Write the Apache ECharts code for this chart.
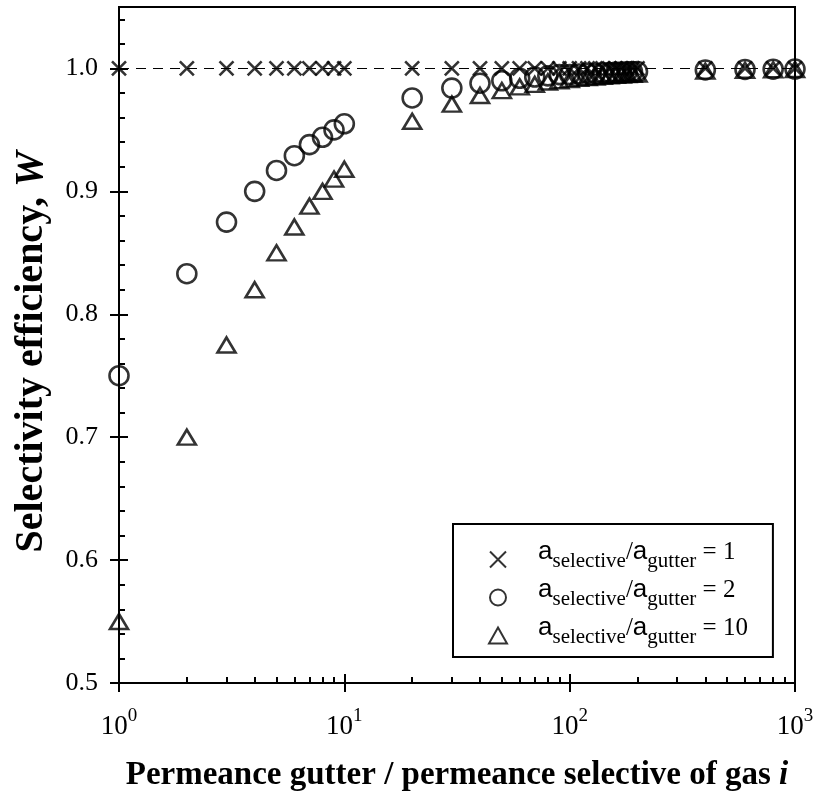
<!DOCTYPE html>
<html>
<head>
<meta charset="utf-8">
<script src="https://cdn.jsdelivr.net/npm/echarts@6/dist/echarts.min.js"></script>
<style>
  html, body { margin: 0; padding: 0; background: #fff; }
  #chart { width: 815px; height: 793px; }
</style>
</head>
<body>
<div id="chart"></div>
<script>
// Permeance ratio (gutter / selective) for each computed point
const permeanceRatio = [1, 2, 3, 4, 5, 6, 7, 8, 9, 10,
  20, 30, 40, 50, 60, 70, 80, 90, 100,
  110, 120, 130, 140, 150, 160, 170, 180, 190, 200,
  400, 600, 800, 1000];

// Selectivity efficiency W for area ratio a_selective/a_gutter = 1
const efficiencyArea1 = [1, 1, 1, 1, 1, 1, 1, 1, 1, 1,
  1, 1, 1, 1, 1, 1, 1, 1, 1,
  1, 1, 1, 1, 1, 1, 1, 1, 1, 1,
  1, 1, 1, 1];

// ... area ratio = 2
const efficiencyArea2 = [0.750, 0.833, 0.875, 0.900, 0.917, 0.929, 0.938, 0.944, 0.950, 0.955,
  0.976, 0.984, 0.988, 0.990, 0.992, 0.993, 0.994, 0.995, 0.995,
  0.9955, 0.996, 0.996, 0.9965, 0.9967, 0.997, 0.997, 0.9972, 0.9974, 0.9975,
  0.9988, 0.9992, 0.9994, 0.9995];

// ... area ratio = 10
const efficiencyArea10 = [0.550, 0.700, 0.775, 0.820, 0.850, 0.871, 0.888, 0.900, 0.910, 0.918,
  0.957, 0.971, 0.978, 0.982, 0.985, 0.987, 0.989, 0.990, 0.991,
  0.992, 0.9926, 0.993, 0.9936, 0.994, 0.9944, 0.9947, 0.995, 0.9953, 0.9955,
  0.9978, 0.9985, 0.9989, 0.9991];

const areaRatioLabels = ['1', '2', '10'];

// Axis ticks
const yMajorTicks = [0.5, 0.6, 0.7, 0.8, 0.9, 1.0];
const yMinorTicks = [0.52, 0.54, 0.56, 0.58, 0.62, 0.64, 0.66, 0.68, 0.72, 0.74, 0.76, 0.78,
  0.82, 0.84, 0.86, 0.88, 0.92, 0.94, 0.96, 0.98, 1.02, 1.04];
const xMinorTicks = [2, 3, 4, 5, 6, 7, 8, 9, 20, 30, 40, 50, 60, 70, 80, 90,
  200, 300, 400, 500, 600, 700, 800, 900];

const SERIF = '"Liberation Serif", "Times New Roman", serif';
const SANS = '"Liberation Sans", Arial, sans-serif';

const pairs = ys => permeanceRatio.map((x, i) => [x, ys[i]]);

// Fixed plot rectangle; the overlay grids carry the extra tick sets
const gridBox = { left: 119, right: 20, top: 7, bottom: 110, outerBoundsMode: 'none', containLabel: false };

const baseX = {
  type: 'log', logBase: 10, min: 1, max: 1000,
  splitLine: { show: false }, minorSplitLine: { show: false }
};
const baseY = {
  type: 'value', min: 0.5, max: 1.05,
  splitLine: { show: false }, minorSplitLine: { show: false }
};
const tickStyle = { color: '#000', width: 2 };

const chart = echarts.init(document.getElementById('chart'), null, { renderer: 'canvas' });

const markerStyle = { color: 'rgba(0,0,0,0)', borderColor: '#000', borderWidth: 2.6 };

chart.setOption({
  animation: false,
  backgroundColor: '#fff',
  grid: [
    Object.assign({ show: true, borderColor: '#000', borderWidth: 2, backgroundColor: 'transparent' }, gridBox),
    Object.assign({}, gridBox),
    Object.assign({}, gridBox)
  ],
  xAxis: [
    Object.assign({}, baseX, {
      gridIndex: 0,
      axisLine: { show: true, lineStyle: { color: '#000', width: 2 } },
      axisTick: { show: true, inside: true, length: 9, lineStyle: tickStyle },
      axisLabel: {
        margin: 24,
        formatter: v => '{b|10}{p|' + Math.round(Math.log10(v)) + '}',
        rich: {
          b: { fontFamily: SERIF, fontSize: 27, color: '#000', verticalAlign: 'top', lineHeight: 28, padding: [6, 0, 0, 0] },
          p: { fontFamily: SERIF, fontSize: 19, color: '#000', verticalAlign: 'top', lineHeight: 20 }
        }
      },
      name: 'Permeance gutter / permeance selective of gas {i|i}',
      nameLocation: 'middle',
      nameGap: 76,
      nameTextStyle: {
        fontFamily: SERIF, fontSize: 33, fontWeight: 'bold', color: '#000',
        rich: { i: { fontFamily: SERIF, fontSize: 33, fontWeight: 'bold', fontStyle: 'italic', color: '#000' } }
      }
    }),
    Object.assign({}, baseX, {
      gridIndex: 1,
      axisLine: { show: false },
      axisTick: { show: true, inside: false, length: 9, lineStyle: tickStyle },
      axisLabel: { show: false }
    }),
    Object.assign({}, baseX, {
      gridIndex: 2,
      axisLine: { show: false },
      axisTick: { show: true, inside: true, length: 6, lineStyle: tickStyle, customValues: xMinorTicks },
      axisLabel: { show: false }
    })
  ],
  yAxis: [
    Object.assign({}, baseY, {
      gridIndex: 0,
      axisLine: { show: true, lineStyle: { color: '#000', width: 2 } },
      axisTick: { show: true, inside: true, length: 9, lineStyle: tickStyle, customValues: yMajorTicks },
      axisLabel: {
        margin: 21, fontFamily: SERIF, fontSize: 26, color: '#000',
        customValues: yMajorTicks,
        formatter: v => v.toFixed(1)
      },
      name: 'Selectivity efficiency, {w|W}',
      nameLocation: 'middle',
      nameGap: 67,
      nameTextStyle: {
        fontFamily: SERIF, fontSize: 40, fontWeight: 'bold', color: '#000',
        padding: [0, 14, 0, 0],
        rich: { w: { fontFamily: SERIF, fontSize: 40, fontWeight: 'bold', fontStyle: 'italic', color: '#000' } }
      }
    }),
    Object.assign({}, baseY, {
      gridIndex: 1,
      axisLine: { show: false },
      axisTick: { show: true, inside: false, length: 9, lineStyle: tickStyle, customValues: yMajorTicks },
      axisLabel: { show: false }
    }),
    Object.assign({}, baseY, {
      gridIndex: 2,
      axisLine: { show: false },
      axisTick: { show: true, inside: true, length: 6, lineStyle: tickStyle, customValues: yMinorTicks },
      axisLabel: { show: false }
    })
  ],
  legend: {
    orient: 'vertical',
    left: 453,
    top: 524,
    padding: [15, 25, 9, 35],
    itemGap: 5,
    itemWidth: 18,
    itemHeight: 16,
    borderColor: '#000',
    borderWidth: 2,
    backgroundColor: '#fff',
    data: ['area1', 'area2', 'area10'],
    formatter: name => {
      const idx = ['area1', 'area2', 'area10'].indexOf(name);
      return '{a0|a}{s|selective}{m|/}{a|a}{s|gutter}{m| = ' + areaRatioLabels[idx] + '}';
    },
    textStyle: {
      rich: {
        a0: { fontFamily: SANS, fontSize: 26, color: '#000', verticalAlign: 'bottom', lineHeight: 25, padding: [0, 0, 7, 26] },
        a: { fontFamily: SANS, fontSize: 26, color: '#000', verticalAlign: 'bottom', lineHeight: 25, padding: [0, 0, 7, 0] },
        m: { fontFamily: SERIF, fontSize: 25, color: '#000', verticalAlign: 'bottom', lineHeight: 25, padding: [0, 0, 7, 0] },
        s: { fontFamily: SERIF, fontSize: 21, color: '#000', verticalAlign: 'bottom', lineHeight: 21 }
      }
    }
  },
  series: [
    {
      name: 'area1', type: 'scatter', xAxisIndex: 0, yAxisIndex: 0,
      symbol: 'path://M0,0L10,10M10,0L0,10', symbolSize: 14,
      itemStyle: markerStyle,
      data: pairs(efficiencyArea1),
      markLine: {
        silent: true, symbol: 'none', label: { show: false },
        lineStyle: { color: '#000', width: 1, type: [10, 7] },
        data: [{ yAxis: 1 }]
      },
      z: 3
    },
    {
      name: 'area2', type: 'scatter', xAxisIndex: 0, yAxisIndex: 0,
      symbol: 'circle', symbolSize: 19,
      itemStyle: markerStyle,
      data: pairs(efficiencyArea2),
      z: 4
    },
    {
      name: 'area10', type: 'scatter', xAxisIndex: 0, yAxisIndex: 0,
      symbol: 'triangle', symbolSize: [18, 15],
      itemStyle: markerStyle,
      data: pairs(efficiencyArea10),
      z: 5
    }
  ]
});
</script>
</body>
</html>
